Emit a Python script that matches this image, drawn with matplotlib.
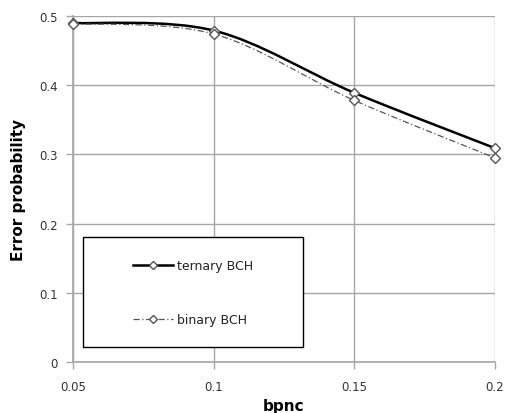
import matplotlib
matplotlib.use("Agg")
import matplotlib.pyplot as plt
from matplotlib.path import Path
from matplotlib.patches import PathPatch, Rectangle
from matplotlib.lines import Line2D
import numpy as np

bpnc = [0.05, 0.1, 0.15, 0.2]
ternary = [0.490, 0.479, 0.389, 0.309]
binary = [0.489, 0.474, 0.378, 0.295]
xticks = [0.05, 0.1, 0.15, 0.2]
xticklabels = ["0.05", "0.1", "0.15", "0.2"]
yticks = [0, 0.1, 0.2, 0.3, 0.4, 0.5]
yticklabels = ["0", "0.1", "0.2", "0.3", "0.4", "0.5"]


def smooth_path(xs, ys):
    pts = np.column_stack([xs, ys])
    n = len(pts)
    verts = [pts[0]]
    codes = [Path.MOVETO]
    for i in range(n - 1):
        p0 = pts[i - 1] if i > 0 else pts[i]
        p1 = pts[i]
        p2 = pts[i + 1]
        p3 = pts[i + 2] if i + 2 < n else pts[i + 1]
        c1 = p1 + (p2 - p0) / 6.0
        c2 = p2 - (p3 - p1) / 6.0
        verts += [c1, c2, p2]
        codes += [Path.CURVE4] * 3
    return Path(verts, codes)


fig = plt.figure(figsize=(5.06, 4.14), dpi=100)
ax = fig.add_axes([73 / 506, 51 / 414, 422 / 506, 346 / 414])
ax.set_xlim(0.05, 0.2)
ax.set_ylim(0, 0.5)

grid_c = "#a6a6a6"
ax.set_xticks(xticks)
ax.set_xticklabels(xticklabels)
ax.set_yticks(yticks)
ax.set_yticklabels(yticklabels)
ax.grid(True, color=grid_c, linewidth=1.0)
ax.set_axisbelow(True)
for s in ["top", "right"]:
    ax.spines[s].set_visible(False)
for s in ["left", "bottom"]:
    ax.spines[s].set_color(grid_c)
    ax.spines[s].set_linewidth(1.2)
ax.tick_params(axis="both", color=grid_c, length=5, width=1.0, labelsize=8.5,
               labelcolor="#333333", direction="out")
ax.tick_params(axis="y", pad=6)
ax.tick_params(axis="x", pad=8)

# curves
ax.add_patch(PathPatch(smooth_path(bpnc, ternary), facecolor="none",
                       edgecolor="black", linewidth=1.8, zorder=3, clip_on=False))
ax.add_patch(PathPatch(smooth_path(bpnc, binary), facecolor="none",
                       edgecolor="#555555", linewidth=0.9,
                       linestyle=(0, (5, 2, 1, 2)), zorder=3, clip_on=False))
ax.plot(bpnc, ternary, linestyle="none", marker="D", markersize=5, clip_on=False,
        markerfacecolor="white", markeredgecolor="#555555", markeredgewidth=1.0, zorder=4)
ax.plot(bpnc, binary, linestyle="none", marker="D", markersize=5, clip_on=False,
        markerfacecolor="white", markeredgecolor="#555555", markeredgewidth=1.0, zorder=4)

ax.set_xlabel("bpnc", fontsize=11, fontweight="bold")
ax.xaxis.label.set_va("center")
ax.xaxis.set_label_coords(0.5, -0.127)
ax.set_ylabel("Error probability", fontsize=11, fontweight="bold")
ax.yaxis.label.set_va("center")
ax.yaxis.set_label_coords(-0.130, 0.5)

# legend box
rect = Rectangle((10 / 422, 15 / 346), 220 / 422, 110 / 346, transform=ax.transAxes,
                 facecolor="white", edgecolor="black", linewidth=1.0, zorder=5)
ax.add_patch(rect)
h1 = Line2D([], [], color="black", linewidth=1.8, marker="D", markersize=4.5,
            markerfacecolor="white", markeredgecolor="#555555")
h2 = Line2D([], [], color="#555555", linewidth=0.9, linestyle=(0, (5, 2, 1, 2)),
            marker="D", markersize=4.5, markerfacecolor="white", markeredgecolor="#555555")
leg = ax.legend([h1, h2], ["ternary BCH", "binary BCH"], loc="center",
                bbox_to_anchor=(120 / 422, 69.5 / 346), bbox_transform=ax.transAxes,
                frameon=False, fontsize=9, labelspacing=3.3, handlelength=3.2,
                handletextpad=0.35, borderpad=0)
leg.set_zorder(6)
for t in leg.get_texts():
    t.set_color("#222222")

fig.savefig("out.png", dpi=100)
